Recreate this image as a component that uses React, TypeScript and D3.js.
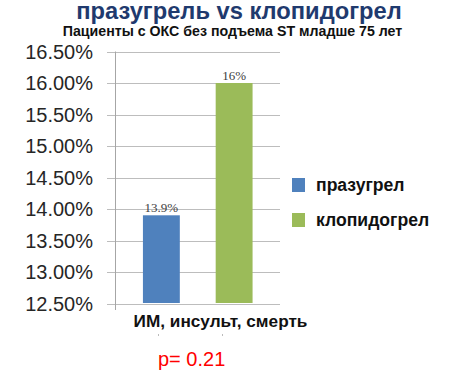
import React from 'react'
import * as d3 from 'd3'

const title = 'празугрель vs клопидогрел'
const subtitle = 'Пациенты с ОКС без подъема ST младше 75 лет'
const category = 'ИМ, инсульт, смерть'
const seriesNames = ['празугрел', 'клопидогрел']
const seriesValues = [13.9, 16]
const valueLabels = ['13.9%', '16%']
const seriesColors = ['#4F81BD', '#9BBB59']
const yTicks = [12.5, 13, 13.5, 14, 14.5, 15, 15.5, 16, 16.5]
const pValue = 'p= 0.21'

const W = 466
const H = 373
const plot = { left: 115.5, right: 280, top: 51.5, bottom: 303.5 }

export default function App() {
  const y = d3.scaleLinear().domain([12.5, 16.5]).range([plot.bottom, plot.top])
  const x = d3
    .scaleBand<string>()
    .domain(seriesNames)
    .range([plot.left, plot.right])
    .paddingInner(0.493)
    .paddingOuter(0.377)

  const font = '"Liberation Sans", Arial, sans-serif'

  return (
    <svg
      width={W}
      height={H}
      style={{ position: 'absolute', left: 0, top: 0, background: '#fff' }}
    >
      {/* titles */}
      <text
        x={239}
        y={19}
        textAnchor="middle"
        fontFamily={font}
        fontWeight="bold"
        fontSize={23.7}
        fill="#1F3A6E"
      >
        {title}
      </text>
      <text
        x={232.5}
        y={36}
        textAnchor="middle"
        fontFamily={font}
        fontWeight="bold"
        fontSize={14.2}
        fill="#111"
      >
        {subtitle}
      </text>

      {/* grid + y ticks */}
      {yTicks.map((t) => (
        <g key={t}>
          <line
            x1={107}
            x2={plot.right}
            y1={Math.round(y(t)) + 0.5}
            y2={Math.round(y(t)) + 0.5}
            stroke="#BDBDBD"
            strokeWidth={1}
          />
          <text
            x={93}
            y={y(t) + 7}
            textAnchor="end"
            fontFamily={font}
            fontSize={20}
            fill="#262626"
          >
            {d3.format('.2f')(t) + '%'}
          </text>
        </g>
      ))}
      <line
        x1={plot.left}
        x2={plot.left}
        y1={plot.top}
        y2={310}
        stroke="#A6A6A6"
        strokeWidth={1}
      />

      {/* bars */}
      {seriesNames.map((s, i) => (
        <g key={s}>
          <rect
            x={x(s)}
            y={y(seriesValues[i])}
            width={x.bandwidth()}
            height={plot.bottom - 0.5 - y(seriesValues[i])}
            fill={seriesColors[i]}
          />
          <text
            x={(x(s) ?? 0) + x.bandwidth() / 2}
            y={y(seriesValues[i]) - 3}
            textAnchor="middle"
            fontFamily='"Liberation Serif", "DejaVu Serif", serif'
            fontSize={13}
            fill="#404040"
          >
            {valueLabels[i]}
          </text>
        </g>
      ))}

      {/* category label */}
      <text
        x={220.5}
        y={327}
        textAnchor="middle"
        fontFamily={font}
        fontWeight="bold"
        fontSize={17.2}
        fill="#111"
      >
        {category}
      </text>
      <line x1={158.5} x2={158.5} y1={334} y2={336} stroke="#BBB" />
      <line x1={222.5} x2={222.5} y1={334} y2={336} stroke="#BBB" />

      {/* legend */}
      {seriesNames.map((s, i) => (
        <g key={s} transform={`translate(292, ${178 + i * 35})`}>
          <rect width={13} height={14} fill={seriesColors[i]} />
          <text
            x={24}
            y={13}
            fontFamily={font}
            fontWeight="bold"
            fontSize={17.6}
            fill="#111"
          >
            {s}
          </text>
        </g>
      ))}

      {/* p value */}
      <text
        x={158}
        y={366}
        fontFamily={font}
        fontSize={20}
        fill="#FF0000"
      >
        {pValue}
      </text>
    </svg>
  )
}
